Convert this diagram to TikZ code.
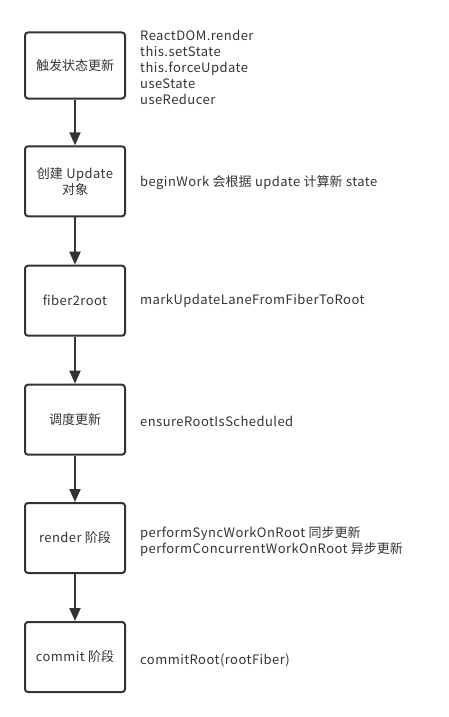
\documentclass[tikz,border=0pt]{standalone}
\usepackage{fontspec}
\setmainfont[LetterSpace=3.5]{Noto Sans CJK SC}
\newfontfamily\cjk{Noto Sans CJK SC}
\usetikzlibrary{arrows.meta}
\definecolor{ink}{HTML}{333333}
\begin{document}
\begin{tikzpicture}[x=1pt,y=-1pt,
  stepbox/.style={draw=ink, line width=2pt, rounded corners=3pt, minimum width=100pt, minimum height=70pt, inner sep=0pt, text=ink, font=\fontsize{13}{16}\selectfont, align=center},
  note/.style={anchor=west, inner sep=0pt, text=ink, font=\fontsize{13}{16}\selectfont, align=left},
  flow/.style={draw=ink, line width=2pt, -{Triangle[length=13pt,width=11pt]}}]
\useasboundingbox (0,0) rectangle (449,717);
\node[stepbox, minimum height=66pt] (s1) at (75,65.5) {\cjk 触发状态更新};
\node[stepbox] (s2) at (75,181.3) {{\cjk 创建} Update\\{\cjk 对象}};
\node[stepbox] (s3) at (75,300.7) {fiber2root};
\node[stepbox] (s4) at (75,419.7) {\cjk 调度更新};
\node[stepbox] (s5) at (75,538) {render {\cjk 阶段}};
\node[stepbox] (s6) at (75,657) {commit {\cjk 阶段}};
\node[note] (n1) at (140,67) {ReactDOM.render\\this.setState\\this.forceUpdate\\useState\\useReducer};
\node[note] (n2) at (140,183) {beginWork {\cjk 会根据} update {\cjk 计算新} state};
\node[note] (n3) at (140,300.5) {markUpdateLaneFromFiberToRoot};
\node[note] (n4) at (140,421) {ensureRootIsScheduled};
\node[note] (n5) at (140,541) {performSyncWorkOnRoot {\cjk 同步更新}\\performConcurrentWorkOnRoot {\cjk 异步更新}};
\node[note] (n6) at (140,660) {commitRoot(rootFiber)};
\draw[flow] (s1) -- (s2);
\draw[flow] (s2) -- (s3);
\draw[flow] (s3) -- (s4);
\draw[flow] (s4) -- (s5);
\draw[flow] (s5) -- (s6);
\end{tikzpicture}
\end{document}
